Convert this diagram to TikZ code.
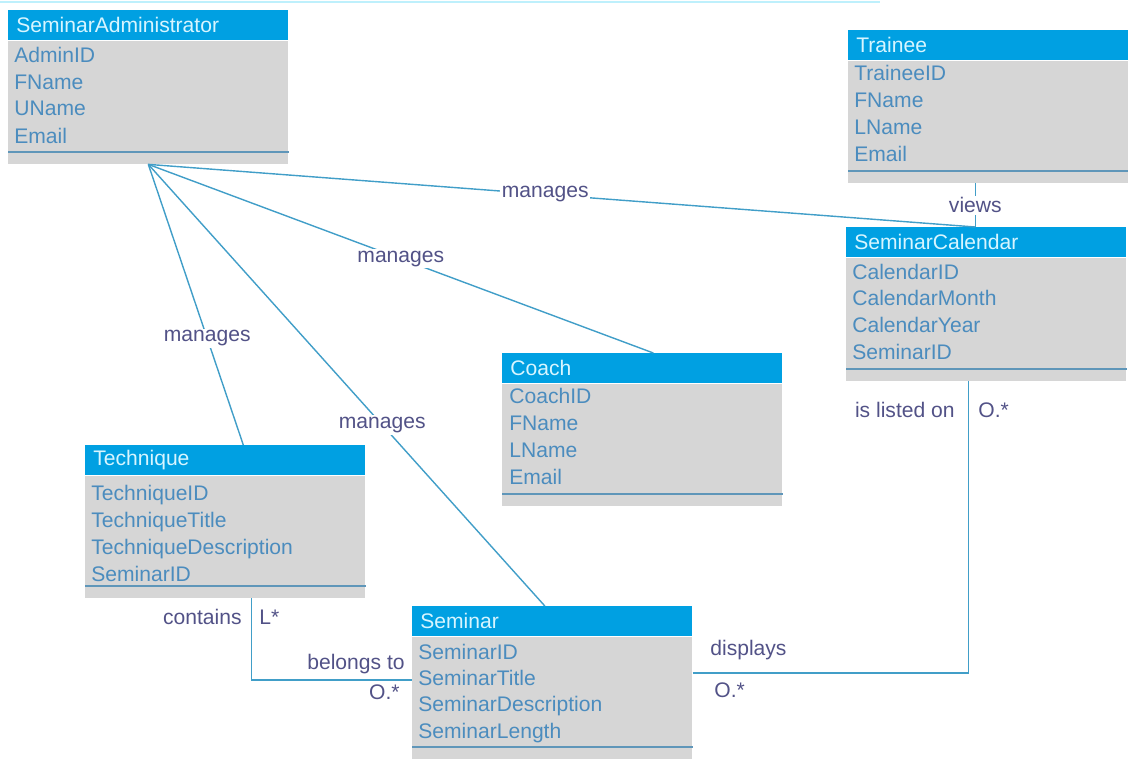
\documentclass[tikz,border=0pt]{standalone}
\usepackage{fontspec}
\setmainfont{Liberation Sans}
\usepackage{tikz}
\definecolor{headerblue}{RGB}{0, 160, 226}
\definecolor{headertext}{RGB}{215, 245, 255}
\definecolor{bodygray}{RGB}{214, 214, 214}
\definecolor{attrblue}{RGB}{75, 140, 190}
\definecolor{dividerblue}{RGB}{95, 150, 185}
\definecolor{linkblue}{RGB}{65, 158, 200}
\definecolor{labelpurple}{RGB}{82, 82, 135}
\definecolor{topcyan}{RGB}{190, 240, 252}
\usetikzlibrary{positioning}

\begin{document}
\begin{tikzpicture}[
    x=0.02cm, y=-0.02cm,
    font=\fontsize{12}{14}\selectfont,
    header/.style={rectangle, fill=headerblue, text=headertext, anchor=north west, minimum width=5.6cm, minimum height=0.6cm, text width=5.28cm, inner xsep=0.16cm, inner ysep=0pt, align=left},
    classbody/.style={rectangle, fill=bodygray, minimum width=5.6cm, minimum height=2.44cm, inner sep=0pt},
    attr/.style={anchor=west, text=attrblue, inner sep=0pt, text height=8.6pt, text depth=0pt},
    divider/.style={dividerblue, line width=1.2pt},
    link/.style={linkblue, line width=0.8pt},
    rel/.style={text=labelpurple, fill=white, inner sep=1pt},
    mult/.style={text=labelpurple, inner sep=0pt, text height=8.6pt, text depth=0pt}
]
    \useasboundingbox (0, 0) rectangle (1128, 760);
    \draw[topcyan, line width=1.7pt] (0, 2) -- (880, 2);

    % Seminar Administrator
    \node[header] (admin) at (8, 10) {SeminarAdministrator};
    \node[classbody, below=0pt of admin, minimum height=2.46cm] (adminbody) {};
    \draw[divider] ([yshift=0.25cm]adminbody.south west) -- ([yshift=0.25cm]adminbody.south east);
    \node[attr] (adminid) at (14, 55) {AdminID};
    \node[attr] (adminfname) at (14, 82) {FName};
    \node[attr] (adminuname) at (14, 108) {UName};
    \node[attr] (adminemail) at (14, 136) {Email};

    % Trainee
    \node[header] (trainee) at (848, 30) {Trainee};
    \node[classbody, below=0pt of trainee] (traineebody) {};
    \draw[divider] ([yshift=0.25cm]traineebody.south west) -- ([yshift=0.25cm]traineebody.south east);
    \node[attr] (traineeid) at (854, 73) {TraineeID};
    \node[attr] (traineefname) at (854, 100) {FName};
    \node[attr] (traineelname) at (854, 127) {LName};
    \node[attr] (traineeemail) at (854, 154) {Email};

    % Seminar Calendar
    \node[header] (calendar) at (846, 227) {SeminarCalendar};
    \node[classbody, below=0pt of calendar, minimum height=2.46cm] (calendarbody) {};
    \draw[divider] ([yshift=0.25cm]calendarbody.south west) -- ([yshift=0.25cm]calendarbody.south east);
    \node[attr] (calendarid) at (852, 272) {CalendarID};
    \node[attr] (calendarmonth) at (852, 298) {CalendarMonth};
    \node[attr] (calendaryear) at (852, 325) {CalendarYear};
    \node[attr] (calendarseminar) at (852, 352) {SeminarID};

    % Coach
    \node[header] (coach) at (502, 353) {Coach};
    \node[classbody, below=0pt of coach] (coachbody) {};
    \draw[divider] ([yshift=0.25cm]coachbody.south west) -- ([yshift=0.25cm]coachbody.south east);
    \node[attr] (coachid) at (509, 396) {CoachID};
    \node[attr] (coachfname) at (509, 423) {FName};
    \node[attr] (coachlname) at (509, 450) {LName};
    \node[attr] (coachemail) at (509, 477) {Email};

    % Technique
    \node[header] (technique) at (85, 445) {Technique};
    \node[classbody, below=0pt of technique] (techniquebody) {};
    \draw[divider] ([yshift=0.25cm]techniquebody.south west) -- ([yshift=0.25cm]techniquebody.south east);
    \node[attr] (techniqueid) at (91, 493) {TechniqueID};
    \node[attr] (techniquetitle) at (91, 520) {TechniqueTitle};
    \node[attr] (techniquedesc) at (91, 547) {TechniqueDescription};
    \node[attr] (techniqueseminar) at (91, 574) {SeminarID};

    % Seminar
    \node[header] (seminar) at (412, 606) {Seminar};
    \node[classbody, below=0pt of seminar] (seminarbody) {};
    \draw[divider] ([yshift=0.25cm]seminarbody.south west) -- ([yshift=0.25cm]seminarbody.south east);
    \node[attr] (seminarid) at (418, 652) {SeminarID};
    \node[attr] (seminartitle) at (418, 678) {SeminarTitle};
    \node[attr] (seminardesc) at (418, 704) {SeminarDescription};
    \node[attr] (seminarlength) at (418, 731) {SeminarLength};

    % Associations of the administrator
    \draw[link] (adminbody.south) -- node[rel, pos=0.48] {manages} ([xshift=-0.22cm]calendar.north);
    \draw[link] (adminbody.south) -- node[rel, pos=0.5] {manages} ([xshift=0.22cm]coach.north);
    \draw[link] (adminbody.south) -- node[rel, pos=0.62] {manages} ([xshift=0.36cm]technique.north);
    \draw[link] (adminbody.south) -- node[rel, pos=0.59] {manages} ([xshift=-0.15cm]seminar.north);

    % Trainee views calendar
    \draw[link] ([xshift=-0.22cm]calendar.north |- traineebody.south) -- node[rel] {views} ([xshift=-0.22cm]calendar.north);

    % Technique - Seminar
    \draw[link] ([xshift=0.52cm]techniquebody.south) |- ([yshift=0.36cm]seminarbody.west);
    \node[mult, anchor=east] (contains) at (242, 617) {contains};
    \node[mult, anchor=west] (lstar) at (259, 617) {L*};
    \node[mult, anchor=east] (belongsto) at (405, 662) {belongs to};
    \node[mult, anchor=east] (techmult) at (400, 692) {O.*};

    % Seminar - Seminar Calendar
    \draw[link] ([yshift=0.5cm]seminarbody.east) -| ([xshift=-0.36cm]calendarbody.south);
    \node[mult, anchor=west] (displays) at (710, 648) {displays};
    \node[mult, anchor=west] (seminarmult) at (714, 690) {O.*};
    \node[mult, anchor=east] (listedon) at (955, 410) {is listed on};
    \node[mult, anchor=west] (calendarmult) at (978, 410) {O.*};
\end{tikzpicture}
\end{document}
